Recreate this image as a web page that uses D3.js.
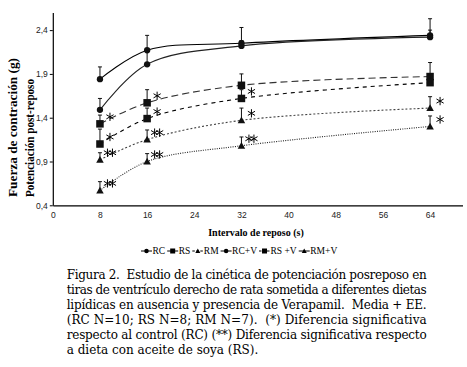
<!DOCTYPE html>
<html>
<head>
<meta charset="utf-8">
<script src="https://cdn.jsdelivr.net/npm/d3@7"></script>
<style>
  body { margin: 0; background: #fff; }
  svg { display: block; }
</style>
</head>
<body>
<script>
// Data
const restIntervals = [8, 16, 32, 64];
const xTicks = [0, 8, 16, 24, 32, 40, 48, 56, 64];
const yTicks = [0.4, 0.9, 1.4, 1.9, 2.4];

const seriesNames = ["RC", "RC+V", "RS", "RS+V", "RM", "RM+V"];
const rcMean   = [1.84, 2.17, 2.25, 2.34];
const rcSE     = [0.14, 0.17, 0.18, 0.19];
const rcvMean  = [1.49, 2.01, 2.22, 2.32];
const rcvSE    = [0.13, 0.18, 0.06, 0.08];
const rsMean   = [1.33, 1.57, 1.77, 1.87];
const rsSE     = [0.10, 0.15, 0.13, 0.16];
const rsvMean  = [1.10, 1.39, 1.62, 1.80];
const rsvSE    = [0.17, 0.12, 0.10, 0.10];
const rmMean   = [0.92, 1.15, 1.37, 1.51];
const rmSE     = [0.08, 0.11, 0.14, 0.13];
const rmvMean  = [0.57, 0.90, 1.08, 1.30];
const rmvSE    = [0.10, 0.09, 0.10, 0.12];

// significance marks: series, interval, number of asterisks
const starSeries = ["RS", "RS", "RS+V", "RS+V", "RS+V", "RM", "RM", "RM", "RM", "RM+V", "RM+V", "RM+V", "RM+V"];
const starX      = [8, 16, 8, 16, 32, 8, 16, 32, 64, 8, 16, 32, 64];
const starCount  = [1, 1, 1, 1, 1, 2, 2, 1, 1, 2, 2, 2, 1];

const legendLabels = ["RC", "RS", "RM", "RC+V", "RS +V", "RM+V"];
const legendShapes = ["circle", "square", "triangle", "circle", "square", "triangle"];
const legendDashed = [false, false, true, false, true, false];

const captionLines = [
  "Figura 2.  Estudio de la cinética de potenciación posreposo en",
  "tiras de ventrículo derecho de rata sometida a diferentes dietas",
  "lipídicas en ausencia y presencia de Verapamil.  Media + EE.",
  "(RC N=10; RS N=8; RM N=7).  (*) Diferencia significativa",
  "respecto al control (RC) (**) Diferencia significativa respecto",
  "a dieta con aceite de soya (RS)."
];

// Styles per series
const styles = {
  "RC":   {shape: "circle",   color: "#000", dash: null,  width: 1.1},
  "RC+V": {shape: "circle",   color: "#222", dash: null,  width: 1.1},
  "RS":   {shape: "square",   color: "#333", dash: "7,4", width: 1.1},
  "RS+V": {shape: "square",   color: "#000", dash: "4,4", width: 1.1},
  "RM":   {shape: "triangle", color: "#444", dash: "2,2", width: 1.1},
  "RM+V": {shape: "triangle", color: "#222", dash: "1,1.3", width: 1.1}
};

const means = [rcMean, rcvMean, rsMean, rsvMean, rmMean, rmvMean];
const ses = [rcSE, rcvSE, rsSE, rsvSE, rmSE, rmvSE];
const series = seriesNames.map((name, i) => ({
  name: name,
  values: restIntervals.map((x, j) => ({x: x, y: means[i][j], se: ses[i][j]}))
}));

const W = 467, H = 367;
const svg = d3.select("body").append("svg")
  .attr("width", W)
  .attr("height", H);

const x = d3.scaleLinear().domain([0, 69.5]).range([52.8, 462.5]);
const y = d3.scaleLinear().domain([0.4, 2.6]).range([205.3, 12.6]);

const fmt = d => d3.format(".1f")(d).replace(".", ",");

// Y axis
const yAxis = svg.append("g")
  .attr("transform", `translate(${x(0)},0)`)
  .call(d3.axisLeft(y).tickValues(yTicks).tickFormat(fmt).tickSize(3).tickSizeOuter(0).tickPadding(2));
yAxis.select(".domain").attr("stroke", "#000").attr("stroke-width", 1.2);
yAxis.selectAll("text")
  .style("font-family", "'Liberation Sans', Arial, sans-serif")
  .style("font-size", "8.5px")
  .attr("fill", "#222");

// X axis
const xAxis = svg.append("g")
  .attr("transform", `translate(0,${y(0.4)})`)
  .call(d3.axisBottom(x).tickValues(xTicks).tickSize(0).tickSizeOuter(0).tickPadding(7));
xAxis.select(".domain").attr("stroke", "#000").attr("stroke-width", 1.2);
xAxis.selectAll("text")
  .style("font-family", "'Liberation Sans', Arial, sans-serif")
  .style("font-size", "8.5px")
  .attr("fill", "#222");

// Axis titles
svg.append("text")
  .attr("x", 256)
  .attr("y", 236)
  .attr("text-anchor", "middle")
  .style("font-family", "'Liberation Serif', 'Times New Roman', serif")
  .style("font-size", "10px")
  .style("font-weight", "bold")
  .text("Intervalo de reposo (s)");

const yTitles = ["Fuerza de contración (g)", "Potenciación post-reposo"];
const yTitleX = [16.8, 33.6];
const yTitleLen = [139, 118];
yTitles.forEach((t, i) => {
  svg.append("text")
    .attr("transform", `translate(${yTitleX[i]},197) rotate(-90)`)
    .attr("text-anchor", "start")
    .attr("textLength", yTitleLen[i])
    .attr("lengthAdjust", "spacingAndGlyphs")
    .style("font-family", "'Liberation Serif', 'Times New Roman', serif")
    .style("font-size", "12.5px")
    .style("font-weight", "bold")
    .text(t);
});

// Markers
function drawMarker(g, shape, cx, cy, s, color) {
  if (shape === "circle") {
    g.append("circle").attr("cx", cx).attr("cy", cy).attr("r", s * 0.45).attr("fill", color);
  } else if (shape === "square") {
    g.append("rect").attr("x", cx - s / 2).attr("y", cy - s / 2)
      .attr("width", s).attr("height", s).attr("fill", color);
  } else {
    g.append("path")
      .attr("d", `M${cx},${cy - s * 0.5}L${cx + s * 0.5},${cy + s * 0.4}L${cx - s * 0.5},${cy + s * 0.4}Z`)
      .attr("fill", color);
  }
}

const line = d3.line()
  .x(d => x(d.x))
  .y(d => y(d.y))
  .curve(d3.curveCatmullRom.alpha(0.5));

const plot = svg.append("g");

series.forEach(s => {
  const st = styles[s.name];
  const g = plot.append("g").attr("class", "series");

  // error bars (mean + SE)
  s.values.forEach(d => {
    g.append("line")
      .attr("x1", x(d.x)).attr("x2", x(d.x))
      .attr("y1", y(d.y)).attr("y2", y(d.y + d.se))
      .attr("stroke", "#111").attr("stroke-width", 1);
    g.append("line")
      .attr("x1", x(d.x) - 2).attr("x2", x(d.x) + 2)
      .attr("y1", y(d.y + d.se)).attr("y2", y(d.y + d.se))
      .attr("stroke", "#111").attr("stroke-width", 1);
  });

  g.append("path")
    .datum(s.values)
    .attr("d", line)
    .attr("fill", "none")
    .attr("stroke", st.color)
    .attr("stroke-width", st.width)
    .attr("stroke-dasharray", st.dash);

  const size = st.shape === "circle" ? 7 : 7.5;
  s.values.forEach(d => drawMarker(g, st.shape, x(d.x), y(d.y), size, "#111"));
});

// Significance asterisks
const star = d3.symbol().type(d3.symbolAsterisk).size(48);
starSeries.forEach((name, i) => {
  const s = series.find(v => v.name === name);
  const d = s.values.find(v => v.x === starX[i]);
  const cx = x(d.x) + 10;
  const cy = y(d.y) - 7;
  const offs = starCount[i] === 2 ? [-2.5, 2.5] : [0];
  offs.forEach(o => {
    svg.append("path")
      .attr("d", star())
      .attr("transform", `translate(${cx + o},${cy})`)
      .attr("fill", "none")
      .attr("stroke", "#000")
      .attr("stroke-width", 1);
  });
});

// Legend
const legend = svg.append("g").attr("transform", "translate(141,251)");
let lx = 0;
legendLabels.forEach((label, i) => {
  const item = legend.append("g").attr("transform", `translate(${lx},0)`);
  item.append("line")
    .attr("x1", 0).attr("x2", 11)
    .attr("y1", 0).attr("y2", 0)
    .attr("stroke", "#000").attr("stroke-width", 1)
    .attr("stroke-dasharray", legendDashed[i] ? "2.5,1.5" : null);
  drawMarker(item, legendShapes[i], 5.5, 0, 5, "#000");
  const t = item.append("text")
    .attr("x", 11.5)
    .attr("y", 3)
    .style("font-family", "'Liberation Serif', 'Times New Roman', serif")
    .style("font-size", "9.5px")
    .text(label);
  lx += 11.5 + t.node().getComputedTextLength() + 2;
});

// Caption
const caption = svg.append("g")
  .style("font-family", "'DejaVu Serif', serif")
  .style("font-size", "12px")
  .attr("fill", "#000");
captionLines.forEach((txt, i) => {
  const t = caption.append("text")
    .attr("x", 66.7)
    .attr("y", 278.5 + i * 15)
    .style("white-space", "pre")
    .text(txt);
  if (i < captionLines.length - 1) {
    t.attr("textLength", 360).attr("lengthAdjust", "spacing");
  }
});
</script>
</body>
</html>
